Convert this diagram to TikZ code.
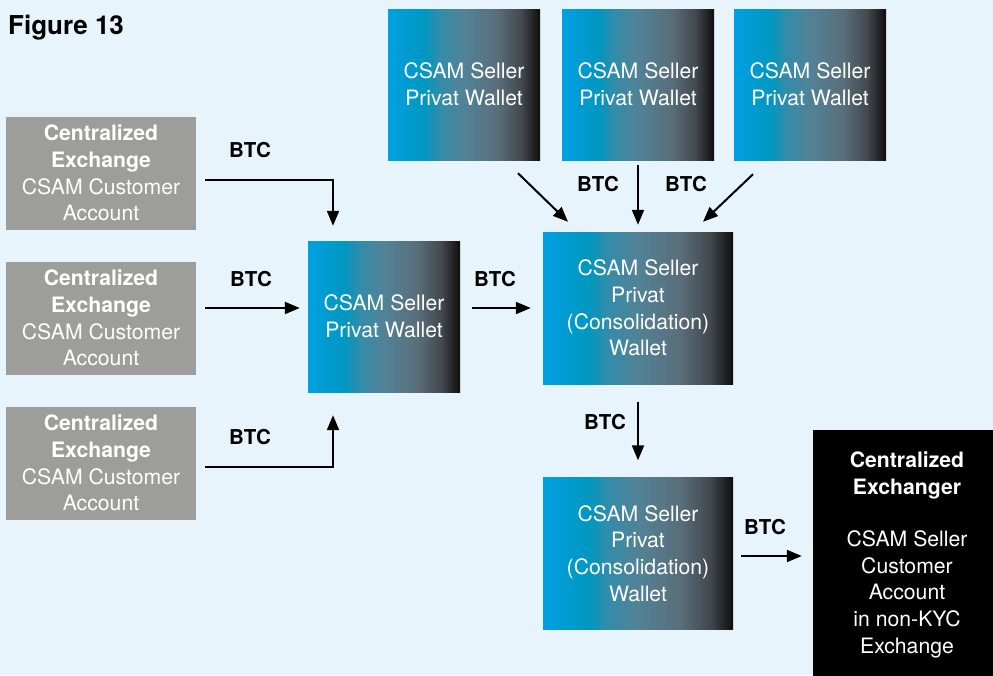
\documentclass[tikz,border=0pt]{standalone}
\usepackage{fontspec}
\setmainfont{TeX Gyre Heros}
\usetikzlibrary{arrows.meta,calc}

\definecolor{pagebg}{RGB}{232,244,252}
\definecolor{exgray}{RGB}{157,157,156}

% Blue-to-black wallet gradient (path spans 25bp..75bp)
\pgfdeclarehorizontalshading{wallet}{100bp}{%
  rgb(0bp)=(0,0.627,0.890);
  rgb(25bp)=(0,0.627,0.890);
  rgb(37bp)=(0,0.590,0.750);
  rgb(42bp)=(0.20,0.55,0.67);
  rgb(50bp)=(0.32,0.51,0.59);
  rgb(61bp)=(0.35,0.43,0.48);
  rgb(69bp)=(0.26,0.28,0.30);
  rgb(75bp)=(0.05,0.05,0.05);
  rgb(100bp)=(0.05,0.05,0.05)}

\tikzset{
  boxtext/.style={text=white, align=center, inner sep=0pt,
    font=\fontsize{21.2}{26.8}\selectfont},
  exbox/.style={boxtext, fill=exgray, minimum width=190pt, minimum height=113pt},
  walletbox/.style={boxtext, shade, shading=wallet, minimum width=152pt, minimum height=151pt},
  consbox/.style={boxtext, shade, shading=wallet, minimum width=190pt, minimum height=152pt},
  kycbox/.style={boxtext, fill=black, minimum width=188pt, minimum height=250pt},
  btc/.style={font=\fontsize{20.5}{24}\selectfont\bfseries, inner sep=0pt},
  flow/.style={line width=2pt, -{Triangle[length=15pt,width=12pt]}},
}

\begin{document}
\begin{tikzpicture}[x=1pt, y=-1pt]
  \fill[pagebg] (0,0) rectangle (993,675);
  \useasboundingbox (0,0) rectangle (993,675);

  \node[anchor=base west, inner sep=0pt, font=\fontsize{26}{30}\selectfont\bfseries]
    (title) at (8,34) {Figure 13};

  % Exchange accounts on the left
  \node[exbox] (g1) at (101,173) {\textbf{Centralized}\\\textbf{Exchange}\\CSAM Customer\\Account};
  \node[exbox] (g2) at (101,318) {\textbf{Centralized}\\\textbf{Exchange}\\CSAM Customer\\Account};
  \node[exbox] (g3) at (101,463) {\textbf{Centralized}\\\textbf{Exchange}\\CSAM Customer\\Account};

  % Wallets
  \node[walletbox] (mw) at (384,316.5) {CSAM Seller\\Privat Wallet};
  \node[walletbox] (t1) at (464,84.5) {CSAM Seller\\Privat Wallet};
  \node[walletbox] (t2) at (638,84.5) {CSAM Seller\\Privat Wallet};
  \node[walletbox] (t3) at (810,84.5) {CSAM Seller\\Privat Wallet};
  \node[consbox] (c1) at (638,308) {CSAM Seller\\Privat\\(Consolidation)\\Wallet};
  \node[consbox] (c2) at (638,553.5) {CSAM Seller\\Privat\\(Consolidation)\\Wallet};

  % Non-KYC exchange (runs past the lower and right edges)
  \node[kycbox] (bk) at (907,555) {\textbf{Centralized}\\\textbf{Exchanger}\\[25pt]CSAM Seller\\Customer\\Account\\in non-KYC\\Exchange};

  % Flows
  \draw[flow] ($(g1.east)+(9,7)$) -| ($(mw.north)+(-51,-15)$);
  \draw[flow] ($(g2.east)+(9,-10)$) -- ($(g2.east -| mw.west)+(-8,-10)$);
  \draw[flow] ($(g3.east)+(9,4)$) -| ($(mw.south)+(-51,23)$);
  \draw[flow] ($(mw.east |- c1.west)+(12,0)$) -- ($(c1.west)+(-12,0)$);
  \draw[flow] ($(t1.south)+(54,13)$) -- ($(c1.north)+(-70,-10)$);
  \draw[flow] ($(t2.south)+(0,5)$) -- ($(c1.north)+(0,-7)$);
  \draw[flow] ($(t3.south)+(-57,14)$) -- ($(c1.north)+(65,-10)$);
  \draw[flow] ($(c1.south)+(0,18)$) -- ($(c2.north)+(0,-17)$);
  \draw[flow] ($(c2.east)+(8,2.5)$) -- ($(c2.east -| bk.west)+(-11,2.5)$);

  % Labels
  \node[btc] (l1) at (250,150) {BTC};
  \node[btc] (l2) at (251,279) {BTC};
  \node[btc] (l3) at (250,437) {BTC};
  \node[btc] (l4) at (495,279) {BTC};
  \node[btc] (l5) at (598,184) {BTC};
  \node[btc] (l6) at (686,184) {BTC};
  \node[btc] (l7) at (605,422) {BTC};
  \node[btc] (l8) at (765,527) {BTC};
\end{tikzpicture}
\end{document}
